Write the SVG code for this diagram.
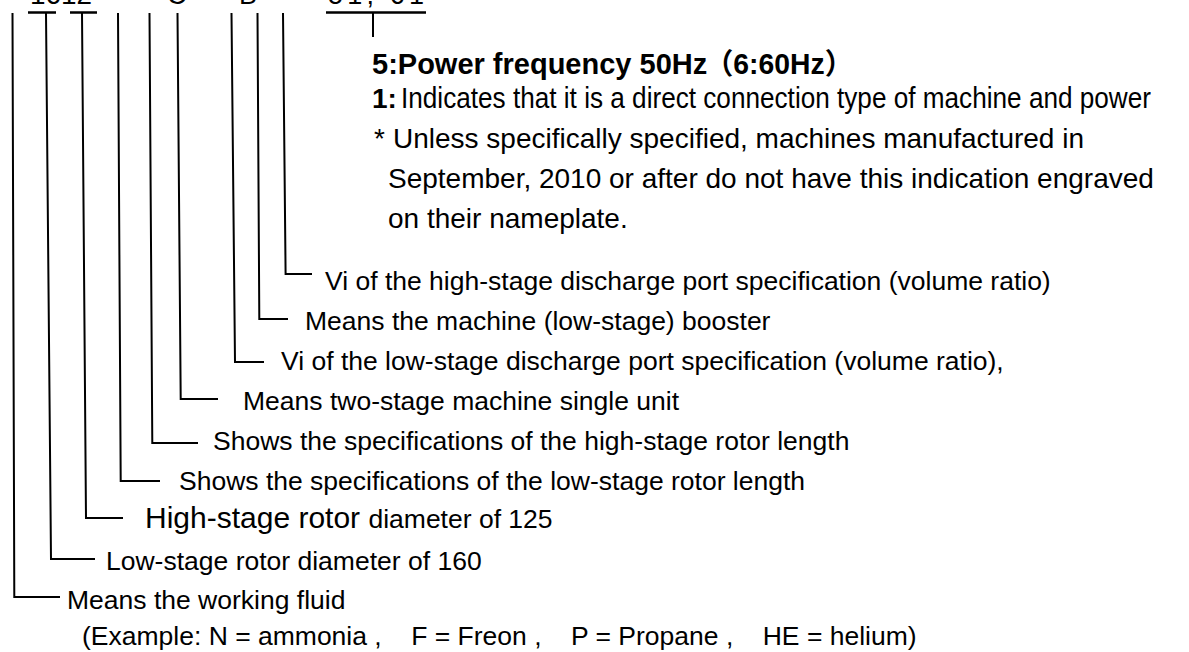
<svg xmlns="http://www.w3.org/2000/svg" width="1189" height="652" viewBox="0 0 1189 652">
<style>
  .t { font-family: "Liberation Sans", Arial, "Noto Sans CJK JP", sans-serif; fill: #000; }
  .lbl { font-size: 26.5px; }
  .blk { font-size: 28px; }
  .b { font-weight: bold; }
  .ln { fill: none; stroke: #000; stroke-width: 2; }
  .bar { fill: none; stroke: #000; stroke-width: 2.6; }
</style>
<rect width="1189" height="652" fill="#fff"/>

<g id="code">
  <text class="t" x="30" y="4" font-size="27" textLength="62" lengthAdjust="spacingAndGlyphs">1612</text>
  <text class="t" x="167" y="4" font-size="27">C</text>
  <text class="t" x="239" y="4" font-size="27">B</text>
  <text class="t" x="328" y="4" font-size="27" textLength="96" lengthAdjust="spacing">51, 61</text>
  <path class="bar" d="M28,12.5 H56 M70,12.5 H97 M326,12.5 H426"/>
</g>

<g id="connectors">
  <path class="ln" d="M373,12.5 V37"/>
  <path class="ln" d="M12.5,13 L14.3,597 L60,597"/>
  <path class="ln" d="M46,13 L51,559 L95,559"/>
  <path class="ln" d="M82,13 L86,518 L123,518"/>
  <path class="ln" d="M118,13 L120.7,481 L160,481"/>
  <path class="ln" d="M149.5,13 L152.3,443 L198,443"/>
  <path class="ln" d="M177.5,13 L180.7,399 L218,399"/>
  <path class="ln" d="M231.5,13 L235,362 L264,362"/>
  <path class="ln" d="M257.5,13 L259.3,319 L288,319"/>
  <path class="ln" d="M283,13 L285.6,274 L312,274"/>
</g>

<g id="note-frequency">
  <text class="t b" x="372" y="74" font-size="29">5:Power frequency 50Hz<tspan x="705" textLength="148" lengthAdjust="spacingAndGlyphs">（6:60Hz）</tspan></text>
</g>
<g id="note-direct">
  <text class="t b" x="372" y="108" font-size="28">1:</text>
  <text class="t" x="401" y="108" font-size="29" textLength="750" lengthAdjust="spacingAndGlyphs">Indicates that it is a direct connection type of machine and power</text>
  <text class="t blk" x="374" y="148">*</text>
  <text class="t blk" x="393" y="148">Unless specifically specified, machines manufactured in</text>
  <text class="t blk" x="388" y="188">September, 2010 or after do not have this indication engraved</text>
  <text class="t blk" x="388" y="228">on their nameplate.</text>
</g>

<g id="label-hi-vi"><text class="t lbl" x="325" y="290">Vi of the high-stage discharge port specification (volume ratio)</text></g>
<g id="label-booster"><text class="t lbl" x="305" y="330">Means the machine (low-stage) booster</text></g>
<g id="label-lo-vi"><text class="t lbl" x="281" y="370">Vi of the low-stage discharge port specification (volume ratio),</text></g>
<g id="label-unit"><text class="t lbl" x="243" y="410">Means two-stage machine single unit</text></g>
<g id="label-hi-len"><text class="t lbl" x="213" y="450">Shows the specifications of the high-stage rotor length</text></g>
<g id="label-lo-len"><text class="t lbl" x="179" y="490">Shows the specifications of the low-stage rotor length</text></g>
<g id="label-hi-dia"><text class="t lbl" x="145" y="528"><tspan font-size="30">High-stage rotor </tspan>diameter of 125</text></g>
<g id="label-lo-dia"><text class="t lbl" x="106" y="570">Low-stage rotor diameter of 160</text></g>
<g id="label-fluid">
  <text class="t lbl" x="67" y="609">Means the working fluid</text>
  <text class="t lbl" x="82" y="645" xml:space="preserve">(Example: N = ammonia ,    F = Freon ,    P = Propane ,    HE = helium)</text>
</g>
</svg>
